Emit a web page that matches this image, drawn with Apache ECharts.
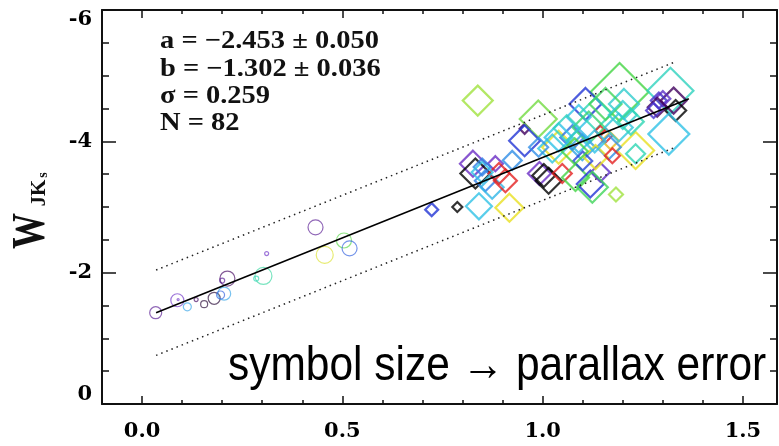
<!DOCTYPE html>
<html>
<head>
<meta charset="utf-8">
<script src="https://cdn.jsdelivr.net/npm/echarts@6/dist/echarts.min.js"></script>
<style>html,body{margin:0;padding:0;background:#fff}#c{width:779px;height:446px}</style>
</head>
<body>
<div id="c"></div>
<script>
// ---------- data ----------
const xTickValues = [0, 0.5, 1.0, 1.5];
const xTickLabels = ['0.0', '0.5', '1.0', '1.5'];
const yTickValues = [-6, -4, -2, 0];
const yTickLabels = ['-6', '-4', '-2', '0'];

// circles (nearby stars)
const circX   = [0.034, 0.088, 0.090, 0.113, 0.135, 0.155, 0.180, 0.205, 0.196, 0.213, 0.200, 0.311, 0.303, 0.285, 0.433, 0.456, 0.504, 0.518];
const circY   = [-1.39, -1.58, -1.59, -1.48, -1.59, -1.52, -1.61, -1.68, -1.66, -1.91, -1.88, -2.29, -1.95, -1.91, -2.69, -2.27, -2.49, -2.37];
const circErr = [0.12, 0.13, 0.02, 0.08, 0.04, 0.07, 0.12, 0.13, 0.08, 0.15, 0.05, 0.04, 0.17, 0.05, 0.15, 0.17, 0.15, 0.15];
const circC   = [0.15, 0.20, 0.20, 0.45, 0.10, 0.05, 0.05, 0.45, 0.35, 0.10, 0.15, 0.20, 0.62, 0.60, 0.15, 0.88, 0.72, 0.35];

// diamonds
const diaX = [0.723, 0.787, 0.841, 0.917, 0.838, 0.955, 0.989, 0.955, 0.826, 0.832, 0.857, 0.874, 0.882, 0.907, 0.891, 0.924,
              0.849, 0.849, 0.992, 1.015, 1.003, 1.049, 1.082, 1.119, 1.144, 1.124, 1.183, 1.040, 1.024, 1.192, 1.319, 1.107,
              1.203, 1.327, 1.290, 1.300, 1.332, 1.286, 1.315, 1.232, 1.232, 1.090, 1.132, 1.157, 1.074, 1.144, 1.157, 1.169,
              1.165, 1.115, 1.190, 1.099, 1.132, 1.174, 1.040, 0.990, 1.277, 1.090, 1.060, 1.200, 1.220, 1.130, 1.100, 1.080];
const diaY = [-2.96, -3.00, -3.01, -2.99, -4.62, -4.19, -4.34, -4.01, -3.66, -3.51, -3.40, -3.30, -3.66, -3.40, -3.51, -3.71,
              -3.61, -3.53, -3.51, -3.40, -3.48, -3.51, -3.45, -3.35, -3.53, -3.30, -3.19, -3.91, -3.89, -4.75, -4.77, -4.57,
              -4.57, -4.62, -4.62, -4.65, -4.47, -4.52, -4.11, -3.81, -3.86, -4.37, -4.42, -4.57, -4.06, -4.16, -4.09, -4.01,
              -3.91, -4.21, -4.21, -3.91, -3.76, -3.78, -4.06, -3.91, -4.47, -4.01, -4.20, -4.40, -4.30, -4.00, -3.70, -3.85];
const diaErr = [0.13, 0.10, 0.26, 0.28, 0.30, 0.10, 0.37, 0.31, 0.26, 0.30, 0.21, 0.23, 0.15, 0.23, 0.21, 0.19,
                0.17, 0.21, 0.23, 0.26, 0.23, 0.19, 0.27, 0.27, 0.19, 0.31, 0.14, 0.33, 0.28, 0.58, 0.46, 0.32,
                0.30, 0.26, 0.16, 0.15, 0.21, 0.19, 0.41, 0.19, 0.37, 0.24, 0.32, 0.32, 0.24, 0.10, 0.14, 0.17,
                0.24, 0.32, 0.28, 0.26, 0.24, 0.15, 0.28, 0.19, 0.15, 0.24, 0.26, 0.28, 0.26, 0.22, 0.19, 0.26];
const diaC = [0.30, 0.00, 0.50, 0.90, 0.80, 0.10, 0.75, 0.30, 0.20, 0.00, 0.40, 0.48, 0.20, 1.00, 1.00, 0.42,
              0.40, 0.50, 0.20, 0.00, 0.00, 1.00, 0.70, 0.30, 0.22, 0.68, 0.80, 0.90, 0.52, 0.70, 0.58, 0.30,
              0.55, 0.10, 0.25, 0.22, 0.00, 0.10, 0.50, 0.60, 0.90, 0.50, 0.60, 0.68, 0.38, 1.00, 1.00, 0.92,
              0.42, 0.66, 0.52, 0.45, 0.90, 1.00, 0.50, 0.42, 0.25, 0.48, 0.58, 0.55, 0.60, 0.50, 0.32, 0.70];

// fit line and +-2.5 sigma lines (end points)
const fitX = [0.035, 1.365];
const fitY = [-1.39, -4.65];
const upX  = [0.035, 1.327];
const upY  = [-2.04, -5.20];
const loX  = [0.035, 1.327];
const loY  = [-0.74, -3.90];

// ---------- styling helpers ----------
const cmapStops = ['#000000', '#40005e', '#6a2cc4', '#2234d4', '#2f80e6', '#2fc2e6', '#2ed6b4', '#44d444', '#a0e23e', '#e8e020', '#e42020'];
function cmap(t) {
  const n = cmapStops.length - 1;
  const p = Math.max(0, Math.min(1, t)) * n;
  const i = Math.min(n - 1, Math.floor(p));
  const f = p - i;
  const a = cmapStops[i], b = cmapStops[i + 1];
  const ch = (s, k) => parseInt(s.substr(1 + 2 * k, 2), 16);
  const c = [0, 1, 2].map(k => Math.round(ch(a, k) + (ch(b, k) - ch(a, k)) * f));
  return 'rgb(' + c.join(',') + ')';
}
const SIZE_SCALE = 100;
function pts(xs, ys, es, cs) {
  return xs.map((x, i) => ({
    value: [x, ys[i]],
    symbolSize: es[i] * SIZE_SCALE,
    itemStyle: { borderColor: cmap(cs[i]) }
  }));
}
const pairs = (xs, ys) => xs.map((x, i) => [x, ys[i]]);

const AX = '#111';
const labelFont = { color: '#000', fontFamily: '"DejaVu Serif"', fontWeight: 'bold', fontSize: 21 };
const xBase = { type: 'value', min: -0.1, max: 1.585, splitLine: { show: false } };
const yBase = { type: 'value', inverse: true, min: -6, max: 0, interval: 2, splitLine: { show: false } };

function yLabel(v) {
  const i = yTickValues.indexOf(v);
  if (i < 0) return '';
  if (i === 0) return '{down|' + yTickLabels[i] + '}';
  if (i === yTickValues.length - 1) return '{up|' + yTickLabels[i] + '}';
  return yTickLabels[i];
}

const chart = echarts.init(document.getElementById('c'), null, { renderer: 'canvas' });
chart.setOption({
  animation: false,
  backgroundColor: '#fff',
  grid: { left: 102, right: 2, top: 10, bottom: 42, containLabel: false },
  xAxis: [
    Object.assign({}, xBase, { position: 'bottom', interval: 0.1,
      axisLine: { show: true, onZero: false, lineStyle: { color: AX, width: 2 } },
      axisTick: { show: true, inside: true, length: 4, lineStyle: { color: AX, width: 1.5 } },
      axisLabel: { show: false } }),
    Object.assign({}, xBase, { position: 'bottom',
      axisLine: { show: false, onZero: false },
      axisTick: { show: true, inside: true, length: 8, customValues: xTickValues, lineStyle: { color: AX, width: 1.5 } },
      axisLabel: Object.assign({ show: true, margin: 17, customValues: xTickValues,
        formatter: v => xTickLabels[xTickValues.indexOf(v)] ?? '' }, labelFont) }),
    Object.assign({}, xBase, { position: 'top', interval: 0.1,
      axisLine: { show: true, onZero: false, lineStyle: { color: AX, width: 2 } },
      axisTick: { show: true, inside: true, length: 4, lineStyle: { color: AX, width: 1.5 } },
      axisLabel: { show: false } }),
    Object.assign({}, xBase, { position: 'top',
      axisLine: { show: false, onZero: false },
      axisTick: { show: true, inside: true, length: 8, customValues: xTickValues, lineStyle: { color: AX, width: 1.5 } },
      axisLabel: { show: false } })
  ],
  yAxis: [
    Object.assign({}, yBase, { position: 'left',
      axisLine: { show: true, onZero: false, lineStyle: { color: AX, width: 2 } },
      axisTick: { show: true, inside: true, length: 14, lineStyle: { color: AX, width: 1.5 } },
      minorTick: { show: true, splitNumber: 4, length: 7, lineStyle: { color: AX, width: 1.5 } },
      axisLabel: Object.assign({ show: true, margin: 10, formatter: yLabel,
        rich: {
          down: Object.assign({ padding: [20, 0, 0, 0] }, labelFont),
          up: Object.assign({ padding: [0, 0, 18, 0] }, labelFont)
        } }, labelFont) }),
    Object.assign({}, yBase, { position: 'right',
      axisLine: { show: true, onZero: false, lineStyle: { color: AX, width: 2 } },
      axisTick: { show: true, inside: true, length: 14, lineStyle: { color: AX, width: 1.5 } },
      minorTick: { show: true, splitNumber: 4, length: 7, lineStyle: { color: AX, width: 1.5 } },
      axisLabel: { show: false } })
  ],
  series: [
    { type: 'scatter', name: 'circles', symbol: 'circle', silent: true, z: 2,
      itemStyle: { color: 'rgba(0,0,0,0)', borderWidth: 1.2, opacity: 0.65 },
      data: pts(circX, circY, circErr, circC) },
    { type: 'scatter', name: 'diamonds', symbol: 'diamond', silent: true, z: 3,
      itemStyle: { color: 'rgba(0,0,0,0)', borderWidth: 2.2 },
      data: pts(diaX, diaY, diaErr, diaC) },
    { type: 'line', name: 'fit', showSymbol: false, silent: true, z: 5,
      lineStyle: { color: '#000', width: 1.6 }, data: pairs(fitX, fitY) },
    { type: 'line', name: 'upper', showSymbol: false, silent: true, z: 5,
      lineStyle: { color: '#222', width: 1.5, type: [1.5, 4] }, data: pairs(upX, upY) },
    { type: 'line', name: 'lower', showSymbol: false, silent: true, z: 5,
      lineStyle: { color: '#222', width: 1.5, type: [1.5, 4] }, data: pairs(loX, loY) }
  ],
  graphic: [
    { type: 'group', x: 160, y: 0, scaleX: 1.14, silent: true, children: [
      { type: 'text', x: 0, y: 41.7, style: { text: 'a = \u22122.453 \u00b1 0.050', font: 'bold 25px "Liberation Serif"', fill: '#111', verticalAlign: 'middle' } },
      { type: 'text', x: 0, y: 69.3, style: { text: 'b = \u22121.302 \u00b1 0.036', font: 'bold 25px "Liberation Serif"', fill: '#111', verticalAlign: 'middle' } },
      { type: 'text', x: 0, y: 96.7, style: { text: '\u03c3 = 0.259', font: 'bold 25px "Liberation Serif"', fill: '#111', verticalAlign: 'middle' } },
      { type: 'text', x: 0, y: 123.5, style: { text: 'N = 82', font: 'bold 25px "Liberation Serif"', fill: '#111', verticalAlign: 'middle' } }
    ] },
    { type: 'text', x: 228, y: 367, scaleX: 0.885, silent: true,
      style: { text: 'symbol size \u2192 parallax error', font: '48px "Liberation Sans"', fill: '#000', verticalAlign: 'middle' } },
    { type: 'text', x: 32, y: 231, rotation: Math.PI / 2, scaleY: 1.3, silent: true,
      style: { text: 'W', font: 'bold 36px "Liberation Serif"', fill: '#111', align: 'center', verticalAlign: 'middle' } },
    { type: 'text', x: 40, y: 193, rotation: Math.PI / 2, silent: true,
      style: { text: 'JK', font: 'bold 21px "Liberation Serif"', fill: '#111', align: 'center', verticalAlign: 'middle' } },
    { type: 'text', x: 43, y: 175, rotation: Math.PI / 2, silent: true,
      style: { text: 's', font: 'bold 14px "Liberation Serif"', fill: '#111', align: 'center', verticalAlign: 'middle' } }
  ]
});
</script>
</body>
</html>
